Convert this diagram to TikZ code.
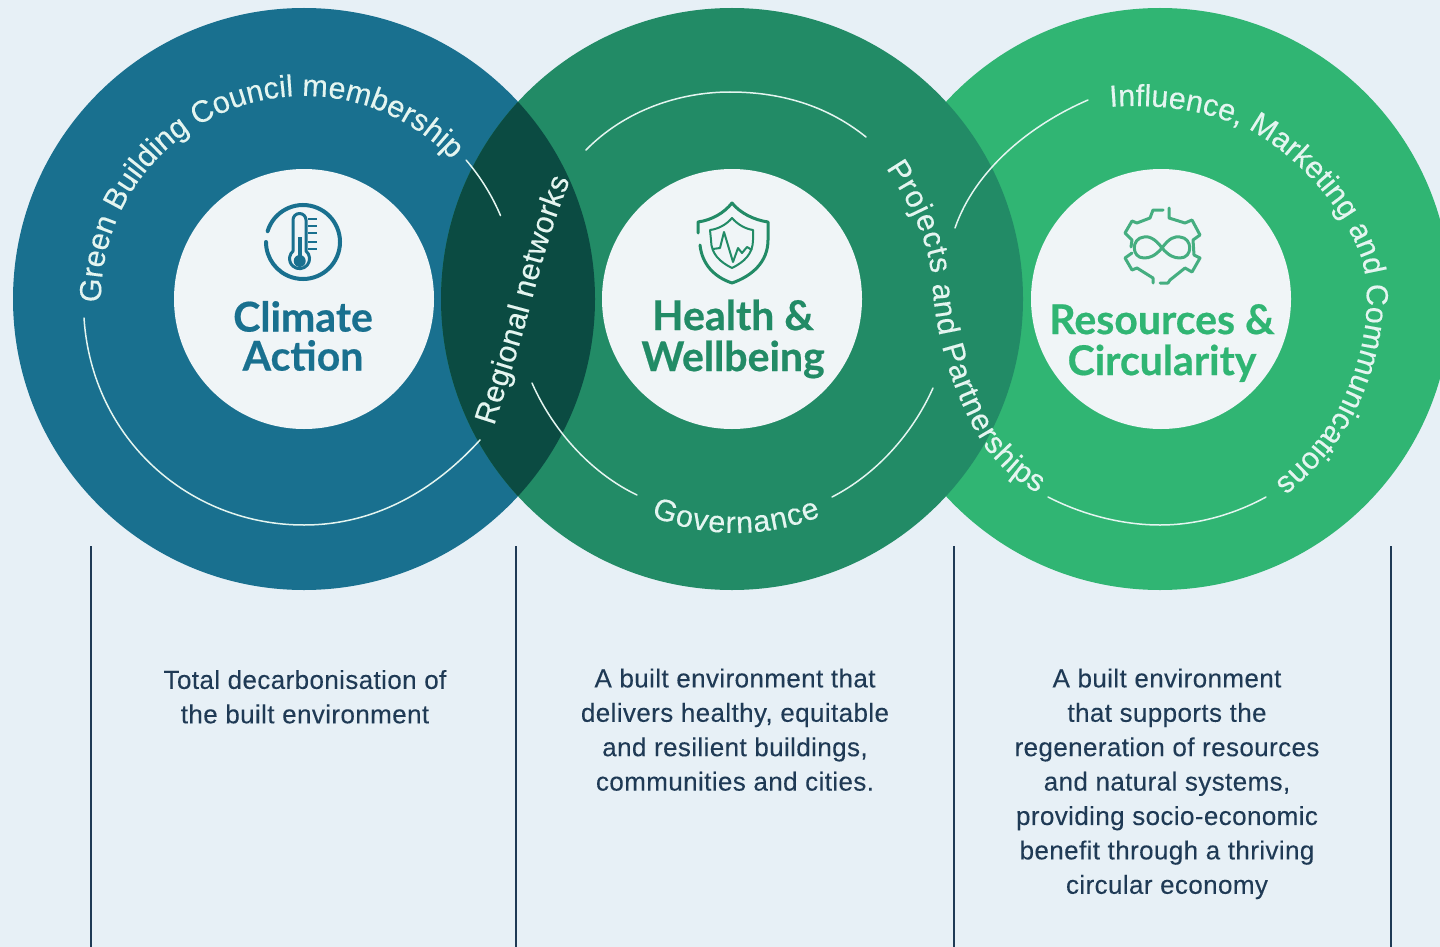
\documentclass[tikz,border=0pt]{standalone}
\usepackage{fontspec}
\setmainfont{Lato}[BoldFeatures={FakeBold=0.5}]
\newfontfamily\bodyfont{Liberation Sans}[LetterSpace=1.5,FakeBold=0.15]
\newfontfamily\ringfont{Liberation Sans}[FakeBold=0.25]
\usetikzlibrary{calc,decorations.text}
\definecolor{bgc}{HTML}{E7F0F6}
\definecolor{teal1}{HTML}{19708F}
\definecolor{green2}{HTML}{228B66}
\definecolor{green3}{HTML}{30B573}
\definecolor{lens}{HTML}{0B4B42}
\definecolor{hub}{HTML}{F0F5F7}
\definecolor{navy}{HTML}{1F3A55}
\definecolor{ringline}{HTML}{E4F5F0}
\definecolor{icon3}{HTML}{45AE80}
\tikzset{
  x=1pt,y=-1pt,
  ringline/.style={draw=ringline,line width=1.5pt,line cap=round},
  hubdisc/.style={circle,fill=hub,draw=none,minimum size=260pt,inner sep=0pt},
  title/.style={font=\fontsize{41}{39}\selectfont\bfseries,align=center},
  bigtitle/.style={font=\fontsize{41}{41}\selectfont\bfseries,align=center},
  body/.style={font=\bodyfont\fontsize{26}{34.4}\selectfont,text=navy,align=center},
  rail/.style={draw=navy,line width=1.1pt},
  ringtext/.style={decorate,decoration={text along path,text align={fit to path},
     text={|\ringfont\fontsize{30.5}{30.5}\selectfont\color{ringline}|#1}}},
  iconline/.style={line width=3pt,line cap=round,line join=round},
}
\begin{document}
\begin{tikzpicture}
\useasboundingbox (0,0) rectangle (1440,947);
\clip (0,0) rectangle (1440,947);
\fill[bgc] (0,0) rectangle (1440,947);
\coordinate (c1) at (304,299);
\coordinate (c2) at (732,299);
\coordinate (c3) at (1160,299);
% big discs
\fill[green3] (c3) circle[radius=291];
\fill[teal1] (c1) circle[radius=291];
\fill[green2] (c2) circle[radius=291];
\begin{scope}
  \clip (c1) circle[radius=291];
  \fill[lens] (c2) circle[radius=291];
\end{scope}
% thin arcs, circle 1
\draw[ringline] (84,318) .. controls (92,440) and (190,525) .. (304,525) .. controls (370,525) and (430,495) .. (480,440);
\draw[ringline] ($(c1)+(-40.6:213.5)$) arc[start angle=-40.6,end angle=-23,radius=213.5];
% thin arcs, circle 2
\draw[ringline] (586,150) .. controls (625,110) and (680,92) .. (730,92) .. controls (785,92) and (830,108) .. (866,137);
\draw[ringline] (532,383) .. controls (555,435) and (595,475) .. (637,495);
\draw[ringline] (832,497) .. controls (875,475) and (912,435) .. (933,388);
% thin arcs, circle 3
\draw[ringline] (1088,100) .. controls (1030,125) and (975,170) .. (955,228);
\draw[ringline] (1048,497) .. controls (1085,516) and (1125,525) .. (1160,525) .. controls (1198,525) and (1235,514) .. (1266,497);
% curved ring labels
\path[ringtext={Green Building Council membership}] ($(c1)+(179:203)$) arc[start angle=179,end angle=316.5,radius=203];
\path[ringtext={Regional networks}] (494,426) .. controls (505,392) and (520,345) .. (530,307) .. controls (542,262) and (552,225) .. (570,180);
\path[ringtext={Projects and Partnerships}] (886,168) .. controls (910,205) and (930,240) .. (933,290) .. controls (936,340) and (955,400) .. (985,447) .. controls (998,465) and (1018,483) .. (1038,493);
\coordinate (gc) at (736,311);
\path[ringtext={Governance}] ($(gc)+(112.5:222)$) arc[start angle=112.5,end angle=67.5,radius=222];
\path[ringtext={Influence, Marketing and Communications}] (1110,107) .. controls (1160,103) and (1210,111) .. (1252,131) .. controls (1302,160) and (1345,210) .. (1362,260) .. controls (1375,310) and (1360,370) .. (1335,415) .. controls (1320,440) and (1298,464) .. (1275,483);
% hubs
\node[hubdisc] (h1) at (c1) {};
\node[hubdisc] (h2) at (c2) {};
\node[hubdisc] (h3) at (1161,299) {};
% thermometer icon
\begin{scope}[teal1]
  \draw[iconline,line width=4pt] ($(303,242)+(197:37)$) arc[start angle=197,end angle=540,radius=37];
  \draw[iconline] (293,251) -- (293,220) arc[start angle=180,end angle=360,radius=6.5] -- (306,251)
     arc[start angle=-50,end angle=230,radius=10] -- cycle;
  \fill (297.5,237) rectangle (302,256);
  \fill (299.7,261) circle[radius=6];
  \foreach \y in {219,226,233,242,249} \draw[line width=2.5pt] (308,\y) -- (317,\y);
\end{scope}
% shield icon
\begin{scope}[green2]
  \draw[iconline] (698,233) -- (698,222) .. controls (712,220) and (724,213) .. (732,203)
     .. controls (740,213) and (754,220) .. (768,222) -- (768,240)
     .. controls (768,262) and (752,276) .. (732,283) .. controls (714,277) and (702,264) .. (700,245);
  \draw[line width=2pt,line join=round] (710,230) .. controls (718,229) and (726,225) .. (732,218)
     .. controls (738,225) and (746,229) .. (753,230) -- (753,240)
     .. controls (753,254) and (744,262) .. (732,268) .. controls (720,262) and (711,254) .. (711,240) -- cycle;
  \draw[line width=2pt,line join=round] (713,249) -- (720,248) -- (724,232) -- (733,262) -- (738,248) -- (742,253) -- (747,247) -- (752,250);
\end{scope}
% gear and infinity icon
\begin{scope}[icon3,line width=3pt,line join=round,line cap=round]
  \draw (1163,210) -- (1153,210) -- (1150,218) -- (1137,223) -- (1132,221) -- (1125,233) -- (1132,240) -- (1131,247);
  \draw (1169,208) -- (1169,218) -- (1185,223) -- (1192,220) -- (1200,235) -- (1193,240) -- (1194,255) -- (1200,258) -- (1192,272) -- (1185,268) -- (1170,280) -- (1168,283) -- (1160,283);
  \draw (1153,283) -- (1153,278) -- (1137,268) -- (1132,270) -- (1125,258) -- (1132,253);
  \draw (1162,248) .. controls (1155,238) and (1148,236) .. (1144,237) .. controls (1131,238) and (1131,258) .. (1144,258)
     .. controls (1150,258) and (1155,256) .. (1162,248) .. controls (1169,238) and (1175,236) .. (1180,237)
     .. controls (1193,238) and (1193,258) .. (1180,258) .. controls (1174,258) and (1169,256) .. (1162,248);
\end{scope}
% hub titles
\node[title,text=teal1] (t1) at (303,336) {Climate\\Action};
\node[bigtitle,text=green2] (t2) at (733,339) {Health \&\\Wellbeing};
\node[bigtitle,text=green3] (t3) at (1162,343) {Resources \&\\Circularity};
% rails
\coordinate (r1) at (91,546); \coordinate (r1b) at (91,947);
\coordinate (r2) at (516,546); \coordinate (r2b) at (516,947);
\coordinate (r3) at (954,546); \coordinate (r3b) at (954,947);
\coordinate (r4) at (1391,546); \coordinate (r4b) at (1391,947);
\draw[rail] (r1) -- (r1b);
\draw[rail] (r2) -- (r2b);
\draw[rail] (r3) -- (r3b);
\draw[rail] (r4) -- (r4b);
% body text
\node[body,anchor=north] (b1) at (305,666.5) {Total decarbonisation of\\the built environment};
\node[body,anchor=north] (b2) at (735,665) {A built environment that\\delivers healthy, equitable\\and resilient buildings,\\communities and cities.};
\node[body,anchor=north] (b3) at (1167,665) {A built environment\\that supports the\\regeneration of resources\\and natural systems,\\providing socio-economic\\benefit through a thriving\\circular economy};
\end{tikzpicture}
\end{document}
